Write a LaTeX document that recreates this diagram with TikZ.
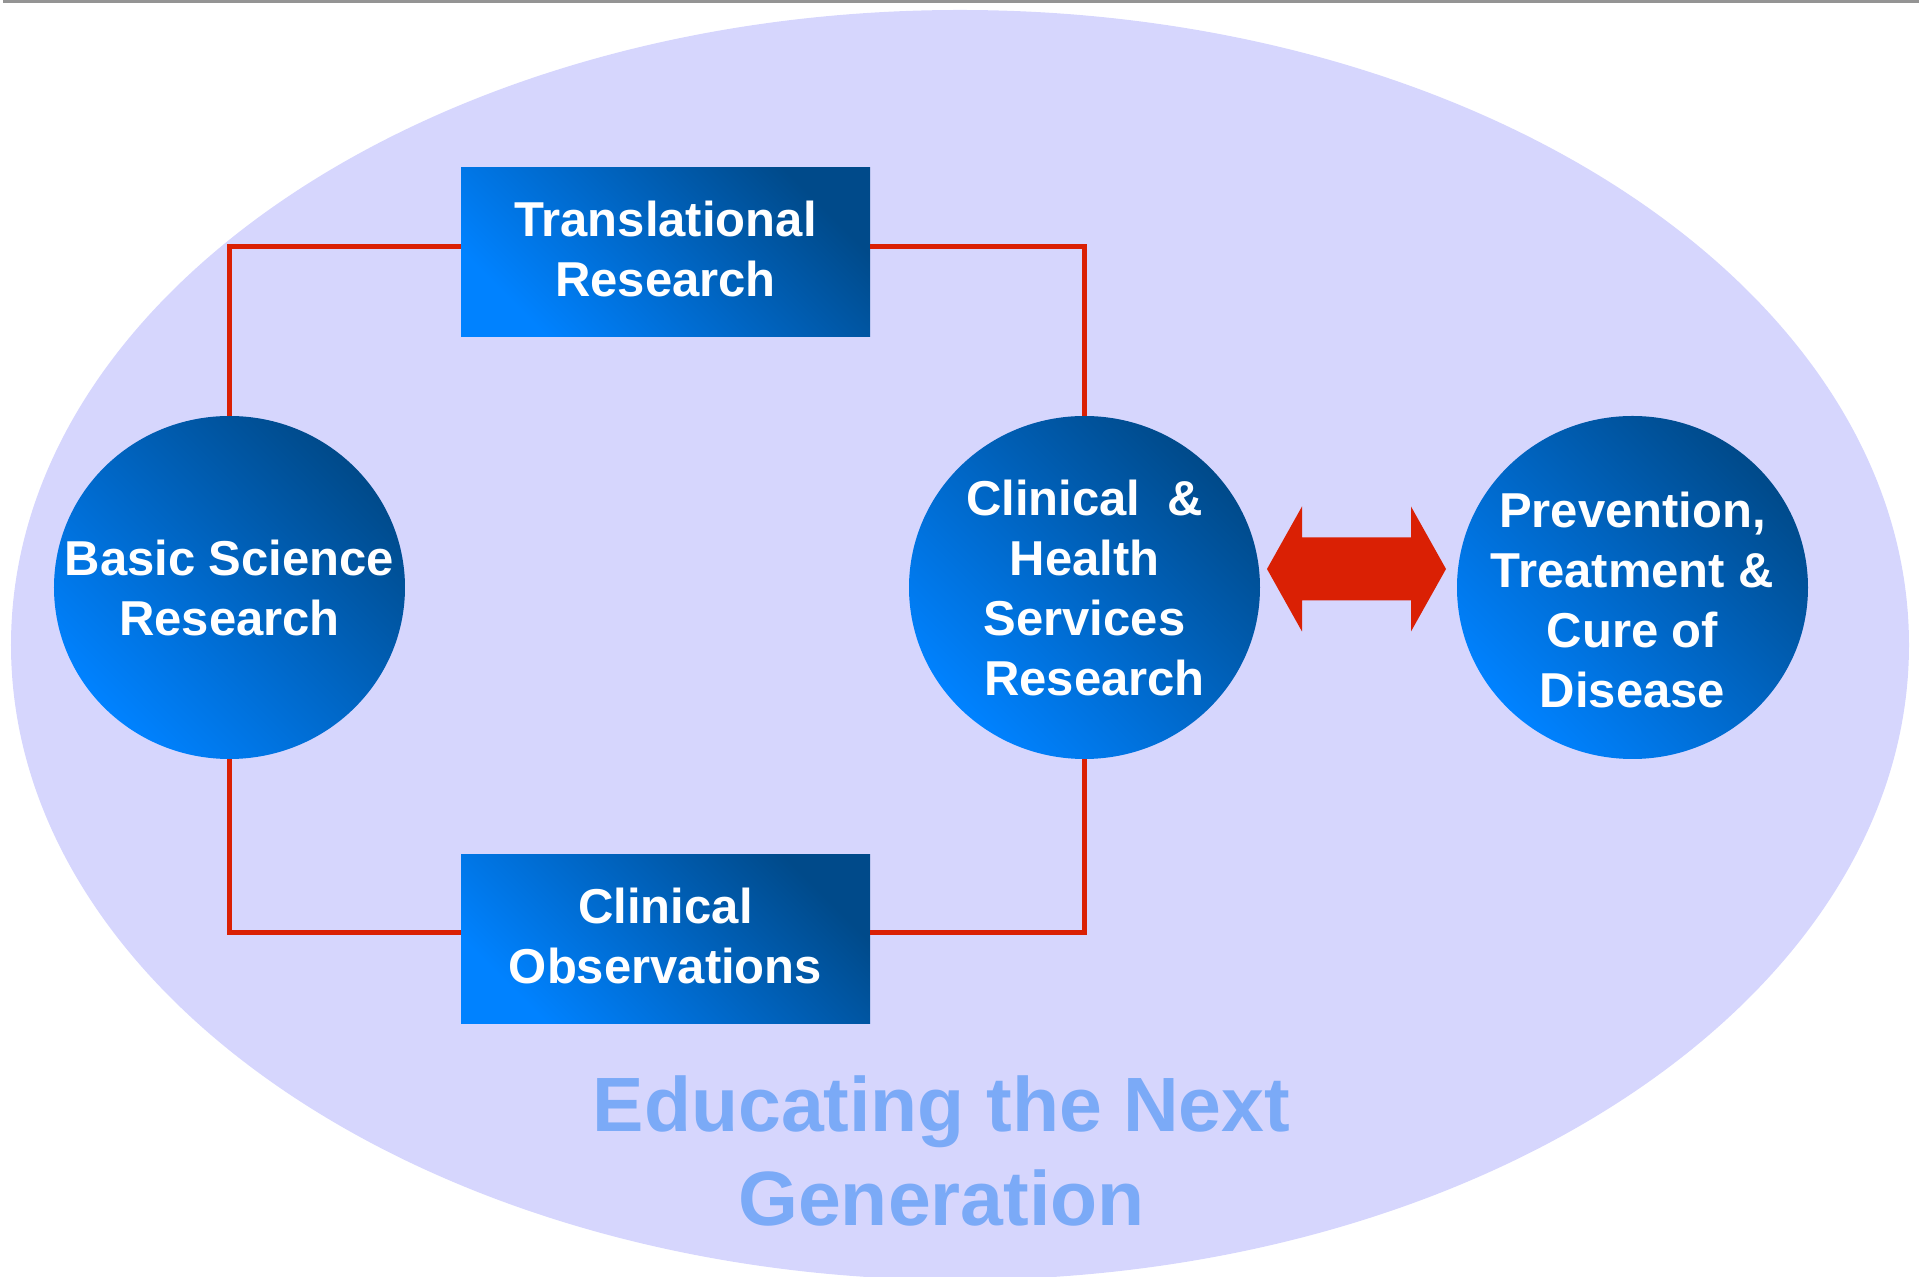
\documentclass[tikz,border=0pt]{standalone}
\usepackage{fontspec}
\setmainfont{Liberation Sans}
\usepackage{xcolor}
\definecolor{BgLavender}{RGB}{214,214,253}
\definecolor{LinkRed}{RGB}{218,32,4}
\definecolor{DeepBlue}{RGB}{0,74,138}
\definecolor{BrightBlue}{RGB}{0,130,255}
\definecolor{TitleBlue}{RGB}{123,170,247}
\definecolor{RuleGray}{RGB}{148,148,148}
\usetikzlibrary{positioning}
\usetikzlibrary{calc}
\usetikzlibrary{shapes.geometric}
\usetikzlibrary{backgrounds}

\begin{document}
\begin{tikzpicture}[
      , area/.style={ellipse, inner sep=-25pt, outer sep=0pt, minimum width=175.5pt, minimum height=171.5pt,
                     top color=DeepBlue, bottom color=BrightBlue, shading angle=-45,
                     text=white, align=center, font=\fontsize{24.5}{30}\selectfont\bfseries}
      , study/.style={rectangle, inner sep=0pt, outer sep=0pt, minimum width=204.5pt, minimum height=84.5pt,
                      top color=DeepBlue, bottom color=BrightBlue, shading angle=-45,
                      text=white, align=center, font=\fontsize{24.5}{30}\selectfont\bfseries}
      , link/.style={color=LinkRed, line width=2.5pt}
      , banner/.style={text=TitleBlue, align=center, font=\fontsize{38.5}{47}\selectfont\bfseries}
      , on grid
      ]

      \useasboundingbox (-114.75pt,293.75pt) rectangle (844.75pt,-344.75pt);

      \fill[BgLavender] (365.25pt,-28.75pt) ellipse [x radius=474.5pt, y radius=317.5pt];
      \draw[RuleGray, line width=1.5pt] (-113.25pt,293pt) -- (844.75pt,293pt);

      \node[area] (basic) {Basic Science\\Research};
      \node[study, above right = 167.5pt and 218pt of basic] (transl) {Translational\\Research\rule[-4pt]{0pt}{4pt}};
      \node[study, below right = 176pt and 218pt of basic] (observ) {Clinical\\Observations\rule[-4pt]{0pt}{4pt}};
      \node[area, right = 427.5pt of basic] (clinical) {Clinical\ \ \&\\Health\\Services\\\hspace*{10pt}Research};
      \node[area, right = 274pt of clinical] (cure) {\rule{0pt}{30pt}Prevention,\\Treatment \&\\Cure of\\Disease};

      \node[banner] (educ) at (356pt,-281.5pt) {Educating the Next\\Generation};

      \draw[link] (basic.north) |- ([yshift=3pt]transl.west);
      \draw[link] ([yshift=3pt]transl.east) -| (clinical.north);
      \draw[link] (basic.south) |- ([yshift=3.5pt]observ.west);
      \draw[link] ([yshift=3.5pt]observ.east) -| (clinical.south);

      \def\headlen{17.5pt}
      \coordinate (arr-l) at ([shift={(3.5pt,9.25pt)}]clinical.east);
      \coordinate (arr-r) at ([shift={(-5.5pt,9.25pt)}]cure.west);
      \fill[LinkRed] (arr-l) -- ++(\headlen,31.25pt) -- ++(0,-15.5pt)
        -- ($(arr-r)+(-\headlen,15.75pt)$) -- ++(0,15.5pt) -- (arr-r)
        -- ++(-\headlen,-31.25pt) -- ++(0,15.5pt)
        -- ($(arr-l)+(\headlen,-15.75pt)$) -- ++(0,-15.5pt) -- cycle;
    \end{tikzpicture}
\end{document}
